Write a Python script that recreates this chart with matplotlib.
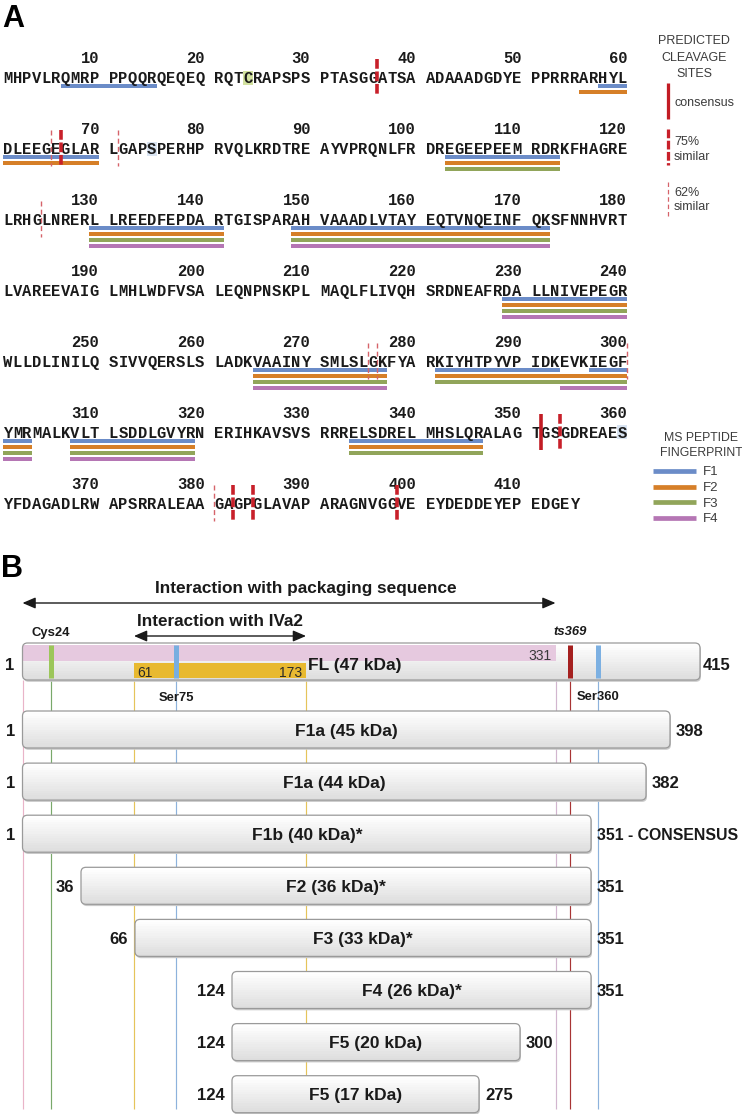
import numpy as np
import matplotlib
matplotlib.use("Agg")
import matplotlib.pyplot as plt
from matplotlib.patches import FancyBboxPatch, Rectangle

# ===================== DATA : panel A =====================
sequence_rows = [
    "MHPVLRQMRP PPQQRQEQEQ RQTCRAPSPS PTASGGATSA ADAAADGDYE PPRRRARHYL",
    "DLEEGEGLAR LGAPSPERHP RVQLKRDTRE AYVPRQNLFR DREGEEPEEM RDRKFHAGRE",
    "LRHGLNRERL LREEDFEPDA RTGISPARAH VAAADLVTAY EQTVNQEINF QKSFNNHVRT",
    "LVAREEVAIG LMHLWDFVSA LEQNPNSKPL MAQLFLIVQH SRDNEAFRDA LLNIVEPEGR",
    "WLLDLINILQ SIVVQERSLS LADKVAAINY SMLSLGKFYA RKIYHTPYVP IDKEVKIEGF",
    "YMRMALKVLT LSDDLGVYRN ERIHKAVSVS RRRELSDREL MHSLQRALAG TGSGDREAES",
    "YFDAGADLRW APSRRALEAA GAGPGLAVAP ARAGNVGGVE EYDEDDEYEP EDGEY",
]
ms_fragments = ["F1", "F2", "F3", "F4"]
peptides_F1 = [(7, 15), (58, 70), (103, 113), (130, 141), (149, 172), (229, 240),
               (265, 277), (282, 293), (297, 303), (308, 319), (334, 346)]
peptides_F2 = [(56, 70), (103, 113), (130, 141), (149, 172), (229, 240),
               (265, 277), (282, 303), (308, 319), (334, 346)]
peptides_F3 = [(103, 113), (130, 141), (149, 172), (229, 240),
               (265, 277), (282, 303), (308, 319), (334, 346)]
peptides_F4 = [(130, 141), (149, 172), (229, 240), (265, 277), (294, 303), (308, 319)]
cleavage_after = [36, 65, 66, 71, 124, 275, 276, 300, 351, 353, 380, 382, 384, 398]
cleavage_class = ["75%", "62%", "75%", "62%", "62%", "62%", "62%", "62%",
                  "consensus", "75%", "62%", "75%", "75%", "75%"]
highlighted_residues = [24, 75, 360]
cleavage_legend = ["consensus", "75%\nsimilar", "62%\nsimilar"]

# ===================== DATA : panel B =====================
full_length = 415
fl_label = "FL (47 kDa)"
fragment_labels = ["F1a (45 kDa)", "F1a (44 kDa)", "F1b (40 kDa)*", "F2 (36 kDa)*",
                   "F3 (33 kDa)*", "F4 (26 kDa)*", "F5 (20 kDa)", "F5 (17 kDa)"]
fragment_start = [1, 1, 1, 36, 66, 124, 124, 124]
fragment_end = [398, 382, 351, 351, 351, 351, 300, 275]
fragment_end_text = ["398", "382", "351 - CONSENSUS", "351", "351", "351", "300", "275"]
packaging_region = (1, 331)
iva2_region = (61, 173)
site_labels = ["Cys24", "Ser75", "ts369", "Ser360"]
site_positions = [24, 75, 339, 360]          # ts369 is drawn at its schematic place
# schematic (not-to-scale) residue axis of panel B
scale_residue = [-20, 1, 24, 36, 61, 66, 75, 124, 173, 275, 300, 331, 351, 360, 382, 398, 415, 460]
scale_pixel = [-3.2, 22.5, 50.7, 81, 134, 135, 176, 232, 306, 479, 520, 555.5, 591, 598, 646, 670, 700, 779]

# ===================== STYLE =====================
W, H = 742, 1114
MONO = "Liberation Mono"
SANS = "Liberation Sans"
frag_colors = ["#6b8cc8", "#d67f28", "#91a55a", "#b576b4"]
highlight_colors = ["#d3e2a0", "#d9e4f2", "#d9e4f2"]
mark_style = {
    "consensus": dict(color="#c21c24", lw=2.6, ls="-"),
    "75%": dict(color="#c8202a", lw=2.6, ls=(0, (2.7, 0.75))),
    "62%": dict(color="#d6636a", lw=1.0, ls=(0, (3.6, 2.3))),
}
TXT = "#1a1a1a"

fig = plt.figure(figsize=(W / 100, H / 100), dpi=100)

# ===================== PANEL A =====================
A_BOT = 552
axa = fig.add_axes([0, 1 - A_BOT / H, 1, A_BOT / H])
PITCH, X0 = 9.6, 3.0
axa.set_xlim(-X0 / PITCH, (W - X0) / PITCH)
axa.set_ylim(A_BOT, 0)
axa.axis("off")


def px2col(px):
    return (px - X0) / PITCH


sequence = "".join(sequence_rows).replace(" ", "")


def col_left(i):
    c = (i - 1) % 60
    return c + c // 10


def row_of(i):
    return (i - 1) // 60


row_y = [78 + 71 * r for r in range(len(sequence_rows))]

axa.text(px2col(2), 27, "A", fontsize=22, fontweight="bold", family=SANS,
         ha="left", va="baseline", color="black")

for i, ch in enumerate(sequence, start=1):
    axa.text(col_left(i) + 0.5, row_y[row_of(i)] + 5, ch, family=MONO,
             fontweight="bold", fontsize=11.2, ha="center", va="baseline",
             color=TXT, zorder=3)
for n in range(10, len(sequence) + 1, 10):
    axa.text(col_left(n) + 1, row_y[row_of(n)] - 15, str(n), family=MONO,
             fontweight="bold", fontsize=11.2, ha="right", va="baseline",
             color=TXT, zorder=3)

for i, c in zip(highlighted_residues, highlight_colors):
    axa.barh(row_y[row_of(i)] - 0.5, 1, left=col_left(i), height=14,
             color=c, edgecolor="none", zorder=1)

for k, peps in enumerate([peptides_F1, peptides_F2, peptides_F3, peptides_F4]):
    for s, e in peps:
        for r in range(row_of(s), row_of(e) + 1):
            a = max(s, 60 * r + 1)
            b = min(e, 60 * r + 60)
            left = col_left(a)
            right = col_left(b) + 1
            axa.barh(row_y[r] + 8 + 6 * k, right - left, left=left, height=4.3,
                     color=frag_colors[k], edgecolor="none", zorder=2)

for n, cls in zip(cleavage_after, cleavage_class):
    if n % 60 == 0:
        x, r = col_left(n) + 1, row_of(n)
    else:
        x, r = col_left(n + 1), row_of(n + 1)
    st = mark_style[cls]
    axa.plot([x, x], [row_y[r] - 19, row_y[r] + 17], color=st["color"], lw=st["lw"],
             ls=st["ls"], solid_capstyle="butt", dash_capstyle="butt", zorder=4)

# legend: predicted cleavage sites
LG = "#3c3c3c"
for t, yb in zip(["PREDICTED", "CLEAVAGE", "SITES"], [44, 61, 77]):
    axa.text(px2col(694), yb, t, family=SANS, fontsize=9, ha="center",
             va="baseline", color=LG)
leg_ranges = [(83, 119), (129, 165), (182, 217)]
leg_classes = ["consensus", "75%", "62%"]
leg_text_y = [[105.5], [145, 160], [196, 210]]
for cls, (y0, y1), lab, ys in zip(leg_classes, leg_ranges, cleavage_legend, leg_text_y):
    st = mark_style[cls]
    axa.plot([px2col(668)] * 2, [y0, y1], color=st["color"], lw=st["lw"] * 0.9,
             ls=st["ls"], solid_capstyle="butt", dash_capstyle="butt")
    for line, yb in zip(lab.split("\n"), ys):
        axa.text(px2col(674), yb, line, family=SANS, fontsize=9, ha="left",
                 va="baseline", color=LG)

# legend: MS peptide fingerprint
for t, yb in zip(["MS PEPTIDE", "FINGERPRINT"], [441, 456]):
    axa.text(px2col(701), yb, t, family=SANS, fontsize=8.8, ha="center",
             va="baseline", color=LG)
for k, name in enumerate(ms_fragments):
    yy = 471 + 15.6 * k
    axa.plot([px2col(653), px2col(696)], [yy, yy], color=frag_colors[k], lw=3.4,
             solid_capstyle="butt")
    axa.text(px2col(703), yy + 4.5, name, family=SANS, fontsize=9.5, ha="left",
             va="baseline", color=LG)

# ===================== PANEL B =====================
B_TOP = 554


def fwd(r):
    return np.interp(np.asarray(r, dtype=float), scale_residue, scale_pixel)


def inv(p):
    return np.interp(np.asarray(p, dtype=float), scale_pixel, scale_residue)


axb = fig.add_axes([0, 0, 1, (H - B_TOP) / H])
axb.set_xscale("function", functions=(fwd, inv))
axb.set_xlim(inv(0), inv(W))
axb.set_ylim(H, B_TOP)
axb.axis("off")
lin = axb.transLimits + axb.transAxes   # scaled (pixel-like) coordinates

axb.text(1, 577, "B", transform=lin, fontsize=22, fontweight="bold", family=SANS,
         ha="left", va="baseline", color="black")

BOX_H = 37
y_fl = 661.5
frag_y = [729.5 + 52.1 * k for k in range(len(fragment_labels))]
top_c = np.array([1.0, 1.0, 1.0])
bot_c = np.array([0.87, 0.87, 0.87])


def draw_box(s, e, yc):
    x0, x1 = float(fwd(s)), float(fwd(e))
    y0 = yc - BOX_H / 2
    style = "round,pad=0,rounding_size=5"
    sh = FancyBboxPatch((x0 + 1.0, y0 + 1.8), x1 - x0, BOX_H, boxstyle=style,
                        transform=lin, fc="#c9c9c9", ec="none", zorder=2)
    axb.add_patch(sh)
    box = FancyBboxPatch((x0, y0), x1 - x0, BOX_H, boxstyle=style, transform=lin,
                         fc="#f2f2f2", ec="none", zorder=3)
    axb.add_patch(box)
    n = 16
    for j in range(n):
        t = j / (n - 1)
        c = top_c * (1 - t) + bot_c * t
        rct = Rectangle((x0, y0 + j * BOX_H / n), x1 - x0, BOX_H / n + 0.4,
                        transform=lin, fc=c, ec="none", zorder=3.1)
        axb.add_patch(rct)
        rct.set_clip_path(box)
    edge = FancyBboxPatch((x0, y0), x1 - x0, BOX_H, boxstyle=style, transform=lin,
                          fc="none", ec="#9a9a9a", lw=0.9, zorder=4.5)
    axb.add_patch(edge)
    return box, x0, x1


# guide lines
guide_pos = [1, site_positions[0], iva2_region[0], site_positions[1], iva2_region[1],
             packaging_region[1], site_positions[2], site_positions[3]]
guide_col = ["#e9b4c8", "#79a86a", "#e5c45a", "#8db2dc", "#e5c45a", "#d2b6cf",
             "#a83434", "#8db2dc"]
axb.vlines(guide_pos, y_fl + BOX_H / 2, 1109, colors=guide_col, linewidth=0.85, zorder=1)

# full-length box
fl_box, fx0, fx1 = draw_box(1, full_length, y_fl)
pb = axb.barh(653, packaging_region[1] - packaging_region[0],
              left=packaging_region[0], height=16, color="#e6c9df",
              edgecolor="none", zorder=3.5)
for p in pb:
    p.set_clip_path(fl_box)
yb_ = axb.barh(670.5, iva2_region[1] - iva2_region[0], left=iva2_region[0],
               height=15, color="#e8b930", edgecolor="none", zorder=3.6)
for p in yb_:
    p.set_clip_path(fl_box)
site_colors = ["#9cc65a", "#78aee0", "#a5201f", "#7cb0e2"]
for pos, c in zip(site_positions, site_colors):
    axb.plot([pos, pos], [645, 678], color=c, lw=3.6, solid_capstyle="butt", zorder=4)

axb.annotate(str(iva2_region[0]), xy=(iva2_region[0], 677), xytext=(2.5, 0),
             textcoords="offset points", ha="left", va="baseline", fontsize=10,
             family=SANS, color="#2a2a2a", zorder=5)
axb.annotate(str(iva2_region[1]), xy=(iva2_region[1], 677), xytext=(-2.5, 0),
             textcoords="offset points", ha="right", va="baseline", fontsize=10,
             family=SANS, color="#2a2a2a", zorder=5)
axb.annotate(str(packaging_region[1]), xy=(packaging_region[1], 660), xytext=(-3, 0),
             textcoords="offset points", ha="right", va="baseline", fontsize=10,
             family=SANS, color="#3a3a3a", zorder=5)

axb.text((fx0 + fx1) / 2 - 6, y_fl + 8.5, fl_label, transform=lin, ha="center",
         va="baseline", fontsize=12.5, fontweight="bold", family=SANS, color=TXT, zorder=6)
axb.text(fx0 - 8, y_fl + 8.5, "1", transform=lin, ha="right", va="baseline",
         fontsize=12, fontweight="bold", family=SANS, color=TXT)
axb.text(fx1 + 3, y_fl + 8.5, str(full_length), transform=lin, ha="left",
         va="baseline", fontsize=12, fontweight="bold", family=SANS, color=TXT)

# site labels
site_label_y = [636, 701, 635, 699.5]
site_label_style = ["normal", "normal", "italic", "normal"]
for lab, pos, yy, sty in zip(site_labels, site_positions, site_label_y, site_label_style):
    axb.text(pos, yy, lab, ha="center", va="baseline", fontsize=9.4,
             fontweight="bold", fontstyle=sty, family=SANS, color=TXT, zorder=6)

# interaction arrows
arrow_kw = dict(arrowstyle="<|-|>,head_length=0.65,head_width=0.28", color="#1a1a1a",
                lw=1.0, shrinkA=0, shrinkB=0, mutation_scale=12)
axb.annotate("", xy=(packaging_region[1], 603), xytext=(packaging_region[0], 603),
             arrowprops=arrow_kw)
axb.annotate("", xy=(iva2_region[1], 636), xytext=(iva2_region[0], 636),
             arrowprops=arrow_kw)
pk_mid = (float(fwd(packaging_region[0])) + float(fwd(packaging_region[1]))) / 2
axb.text(pk_mid + 17, 593, "Interaction with packaging sequence", transform=lin,
         ha="center", va="baseline", fontsize=12.4, fontweight="bold", family=SANS,
         color=TXT)
iv_mid = (float(fwd(iva2_region[0])) + float(fwd(iva2_region[1]))) / 2
axb.text(iv_mid, 626.5, "Interaction with IVa2", transform=lin, ha="center",
         va="baseline", fontsize=12.3, fontweight="bold", family=SANS, color=TXT)

# fragment boxes
for lab, s, e, et, yc in zip(fragment_labels, fragment_start, fragment_end,
                             fragment_end_text, frag_y):
    _, x0, x1 = draw_box(s, e, yc)
    axb.text((x0 + x1) / 2, yc + 6.2, lab, transform=lin, ha="center", va="baseline",
             fontsize=12.5, fontweight="bold", family=SANS, color=TXT, zorder=6)
    axb.text(x0 - 7, yc + 6, str(s), transform=lin, ha="right", va="baseline",
             fontsize=12, fontweight="bold", family=SANS, color=TXT)
    axb.text(x1 + 6, yc + 6, et, transform=lin, ha="left", va="baseline",
             fontsize=12 if len(et) < 5 else 11.4, fontweight="bold", family=SANS,
             color=TXT)

fig.savefig("out.png", dpi=100)
